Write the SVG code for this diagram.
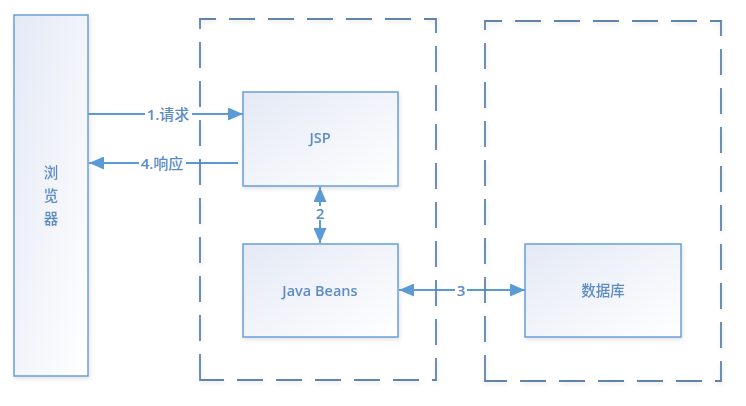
<svg xmlns="http://www.w3.org/2000/svg" width="746" height="406" viewBox="0 0 746 406">
<defs>
<linearGradient id="fill" x1="0" y1="0" x2="1" y2="1">
<stop offset="0" stop-color="#e4e9f5"/>
<stop offset="1" stop-color="#ffffff"/>
</linearGradient>
<filter id="sh" x="-10%" y="-10%" width="120%" height="120%">
<feGaussianBlur in="SourceAlpha" stdDeviation="2"/>
<feOffset dx="1" dy="2"/>
<feComponentTransfer><feFuncA type="linear" slope="0.12"/></feComponentTransfer>
<feMerge><feMergeNode/><feMergeNode in="SourceGraphic"/></feMerge>
</filter>
<marker id="ah" viewBox="0 0 15 13" refX="15" refY="6.5" markerWidth="15" markerHeight="13" markerUnits="userSpaceOnUse" orient="auto-start-reverse">
<path d="M0,0 L15,6.5 L0,13 Z" fill="#5b9bd5"/>
</marker>
<style>
.box{fill:url(#fill);stroke:#6a9fd4;stroke-width:1.5}
.cont{fill:none;stroke:#5e84ad;stroke-width:1.8;stroke-dasharray:26 13}
.lbl{font-family:"Open Sans","Noto Sans CJK SC",sans-serif;font-size:14.5px;font-weight:600;fill:#5b8cc4;text-anchor:middle;dominant-baseline:central}
.edge{stroke:#5b9bd5;stroke-width:2;fill:none}
.el{font-family:"Open Sans","Noto Sans CJK SC",sans-serif;font-size:15px;font-weight:600;fill:#5b8cc4;text-anchor:middle;dominant-baseline:central}
.cjk{font-weight:500}
.bg{fill:#ffffff}
</style>
</defs>
<rect width="746" height="406" fill="#ffffff"/>
<g id="browser" filter="url(#sh)">
<rect class="box" x="14" y="15" width="74" height="361"/>
<text class="lbl cjk" x="51" y="172">浏</text>
<text class="lbl cjk" x="51" y="195">览</text>
<text class="lbl cjk" x="51" y="218">器</text>
</g>
<g id="jsp" filter="url(#sh)">
<rect class="box" x="243" y="92" width="155" height="94"/>
<text class="lbl" x="320" y="137">JSP</text>
</g>
<g id="javabeans" filter="url(#sh)">
<rect class="box" x="243" y="244" width="155" height="93"/>
<text class="lbl" x="320" y="290">Java Beans</text>
</g>
<g id="database" filter="url(#sh)">
<rect class="box" x="525" y="244" width="156" height="93"/>
<text class="lbl cjk" x="603" y="290">数据库</text>
</g>
<g id="connectors">
<line class="edge" x1="88" y1="114" x2="243" y2="114" marker-end="url(#ah)"/>
<rect class="bg" x="145" y="106" width="47" height="16"/>
<text class="el" x="168" y="114">1.<tspan class="cjk">请求</tspan></text>
<line class="edge" x1="238" y1="163" x2="89" y2="163" marker-end="url(#ah)"/>
<rect class="bg" x="139" y="155" width="47" height="16"/>
<text class="el" x="162" y="163">4.<tspan class="cjk">响应</tspan></text>
<line class="edge" x1="320" y1="187" x2="320" y2="243" marker-start="url(#ah)" marker-end="url(#ah)"/>
<rect class="bg" x="314" y="206" width="12" height="14"/>
<text class="el" x="320" y="213">2</text>
<line class="edge" x1="399" y1="290" x2="525" y2="290" marker-start="url(#ah)" marker-end="url(#ah)"/>
<rect class="bg" x="455" y="283" width="12" height="14"/>
<text class="el" x="461" y="290">3</text>
</g>
<g id="container-web" filter="url(#sh)">
<path class="cont" d="M200,380 L200,19 L436,19 L436,380 Z"/>
</g>
<g id="container-db" filter="url(#sh)">
<path class="cont" d="M485,381 L485,21 L721,21 L721,381 Z"/>
</g>
</svg>
